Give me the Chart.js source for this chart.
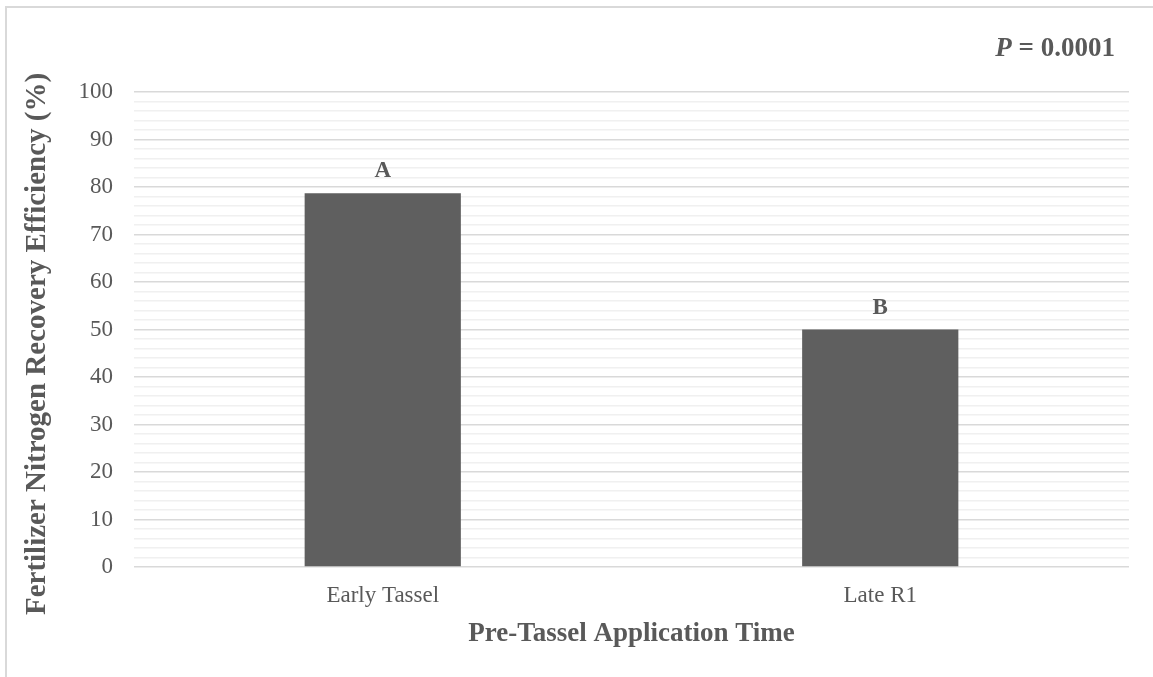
<!DOCTYPE html>
<html>
<head>
<meta charset="utf-8">
<script src="https://cdn.jsdelivr.net/npm/chart.js@4"></script>
<style>
  html, body { margin: 0; padding: 0; background: #fff; overflow: hidden; }
  #frame { position: absolute; left: 5px; top: 6px; width: 1200px; height: 700px; border: 2px solid #d9d9d9; }
  #wrap { position: absolute; left: 0; top: 0; width: 1153px; height: 677px; }
</style>
</head>
<body>
<div id="frame"></div>
<div id="wrap"><canvas id="chart" width="1153" height="677"></canvas></div>
<script>
// data
const categories = ['Early Tassel', 'Late R1'];
const recovery = [78.7, 50.0];
const letters = ['A', 'B'];          // mean separation letters
const pText = '0.0001';
const yTitle = 'Fertilizer Nitrogen Recovery Efficiency (%)';

const SERIF = '"Liberation Serif", "Times New Roman", serif';
const TEXT = '#595959';

// letters above the bars, the P value in the corner, and the y title
const annotations = {
  id: 'annotations',
  afterDatasetsDraw(chart) {
    const ctx = chart.ctx;
    const meta = chart.getDatasetMeta(0);
    ctx.save();
    ctx.fillStyle = TEXT;
    ctx.textAlign = 'center';
    ctx.textBaseline = 'alphabetic';
    ctx.font = 'bold 23px ' + SERIF;
    meta.data.forEach((bar, i) => {
      ctx.fillText(letters[i], bar.x, bar.y - 16);
    });

    // P = 0.0001, right aligned
    const right = 1115, base = 56;
    ctx.textAlign = 'left';
    ctx.font = 'bold 27px ' + SERIF;
    const rest = ' = ' + pText;
    const wRest = ctx.measureText(rest).width;
    ctx.font = 'italic bold 27px ' + SERIF;
    const wP = ctx.measureText('P').width;
    const x0 = right - wRest - wP;
    ctx.fillText('P', x0, base);
    ctx.font = 'bold 27px ' + SERIF;
    ctx.fillText(rest, x0 + wP, base);

    // y axis title (Excel centres it a bit lower than the plot)
    ctx.translate(38, 344);
    ctx.rotate(-Math.PI / 2);
    ctx.textAlign = 'center';
    ctx.textBaseline = 'middle';
    ctx.font = 'bold 29px ' + SERIF;
    ctx.fillText(yTitle, 0, 0);
    ctx.restore();
  }
};

const ctx = document.getElementById('chart');
new Chart(ctx, {
  type: 'bar',
  data: {
    labels: categories,
    datasets: [{
      data: recovery,
      backgroundColor: '#5f5f5f',
      borderWidth: 0,
      categoryPercentage: 1,
      barPercentage: 0.314
    }]
  },
  options: {
    responsive: false,
    animation: false,
    layout: { padding: { top: 92, right: 24, bottom: 0, left: 0 } },
    plugins: { legend: { display: false }, tooltip: { enabled: false } },
    scales: {
      x: {
        grid: { display: false, drawTicks: false },
        border: { display: false },
        ticks: { color: TEXT, font: { family: SERIF, size: 23 }, padding: 15 },
        title: {
          display: true,
          text: 'Pre-Tassel Application Time',
          color: TEXT,
          font: { family: SERIF, size: 27, weight: 'bold' },
          padding: { top: 0, bottom: 27 }
        },
        afterFit(scale) { scale.height = 110; }
      },
      y: {
        min: 0,
        max: 100,
        grid: {
          drawTicks: false,
          color: c => (c.tick && c.tick.value % 10 === 0) ? '#d9d9d9' : '#f0f0f0',
          lineWidth: 1.5
        },
        border: { display: false },
        ticks: {
          stepSize: 2,
          autoSkip: false,
          color: TEXT,
          font: { family: SERIF, size: 23 },
          padding: 21,
          callback: v => (v % 10 === 0 ? v : '')
        },
        afterFit(scale) { scale.width = 134; }
      }
    }
  },
  plugins: [annotations]
});
</script>
</body>
</html>
